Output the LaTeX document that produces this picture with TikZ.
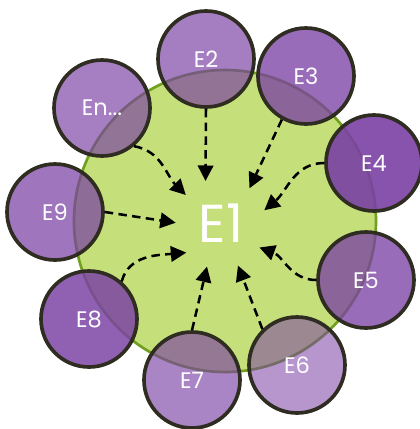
\documentclass[tikz,border=0pt]{standalone}
\usepackage{fontspec}
\setmainfont{Poppins}
\usetikzlibrary{arrows.meta}
\definecolor{leaf}{RGB}{197,224,122}
\definecolor{leafline}{RGB}{112,160,30}
\definecolor{plum}{RGB}{122,64,164}
\definecolor{rim}{RGB}{47,44,34}
\begin{document}
\begin{tikzpicture}[
    entity/.style={circle, draw=rim, line width=2.6pt, fill=plum, fill opacity=#1, text opacity=1,
      text=white, minimum size=2.4cm, inner sep=0pt, font=\fontsize{16}{16}\selectfont},
    link/.style={dash pattern=on 6pt off 3.8pt, line width=1.8pt, -{Triangle[length=11pt,width=11pt]}}
  ]
  \useasboundingbox (0,0) rectangle (10.5,-10.725);

  \node[circle, draw=leafline, fill=leaf, line width=1.9pt, minimum size=7.55cm] (core) at (5.625,-5.525) {};

  \node[entity=0.68] (E2) at (5.15,-1.475) {E2};
  \node[entity=0.77] (E3) at (7.65,-1.9) {E3};
  \node[entity=0.9] (E4) at (9.35,-4.075) {E4};
  \node[entity=0.77] (E5) at (9.15,-7.0) {E5};
  \node[entity=0.55] (E6) at (7.425,-9.125) {E6};
  \node[entity=0.64] (E7) at (4.8,-9.5) {E7};
  \node[entity=0.83] (E8) at (2.225,-7.975) {E8};
  \node[entity=0.72] (E9) at (1.375,-5.3) {E9};
  \node[entity=0.67] (En) at (2.55,-2.7) {En...};

  \node[circle, minimum size=2.25cm, inner sep=0pt, text=white, font=\fontsize{38}{38}\selectfont] (E1) at (5.525,-5.5875) {E1};

  \draw[link] (E2.south) -- (E1.110);
  \draw[link] (E3.-119) -- (E1.51);
  \draw[link] (E4.west) to[out=180, in=40] (E1.17);
  \draw[link] (E5.west) to[out=180, in=-20] (E1.-32);
  \draw[link] (E6.134) -- (E1.-68);
  \draw[link] (E7.north) -- (E1.-108);
  \draw[link] (E8.49) to[out=75, in=185] (E1.-140);
  \draw[link] (E9.east) -- (E1.179);
  \draw[link] (En.-50) to[out=-10, in=135] (E1.141);
\end{tikzpicture}
\end{document}
